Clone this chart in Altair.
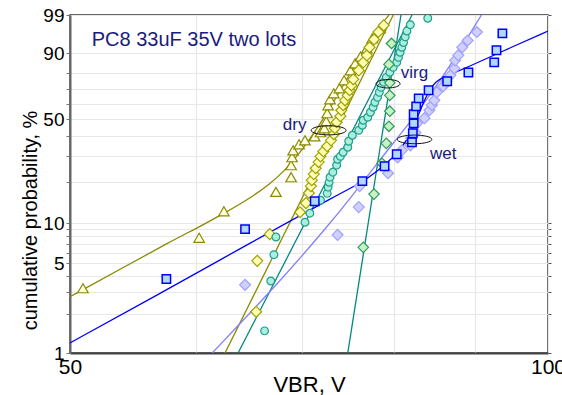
import math
import altair as alt
import pandas as pd

# ---------------- data: VBR (V) and cumulative probability (%) ----------------
# dry, lot 1 (triangles)
dry1_vbr = [50.95, 60.3, 62.5, 67.4, 68.9, 68.9, 69.0, 69.1, 69.7, 70.3, 71.3, 71.9, 72.3,
            72.5, 72.6, 72.7, 72.9, 73.3, 73.9, 74.4, 75.1, 75.6, 76.2, 76.9, 77.5, 78.4]
dry1_pct = [3.2, 7.8, 12.3, 17.0, 21.6, 26.1, 29.5, 32.7, 35.7, 37.8, 40.0, 42.3, 44.6,
            48.9, 54.0, 59.2, 63.2, 67.2, 70.5, 75.6, 81.5, 85.3, 88.6, 91.9, 95.1, 97.3]
# dry, lot 2 (yellow diamonds)
dry2_vbr = [65.5, 65.6, 66.8, 69.8, 70.4, 70.7, 70.9, 71.0, 71.2, 71.4, 71.7, 71.9, 72.2,
            72.6, 73.0, 73.3, 73.4, 73.6, 74.0, 74.1, 74.3, 74.5, 74.8, 75.0, 75.2, 75.4,
            76.0, 76.5, 76.9, 77.2, 77.7, 78.2, 78.8]
dry2_pct = [2.1, 5.2, 8.3, 12.1, 14.1, 16.7, 18.7, 20.6, 22.7, 24.9, 27.4, 29.9, 32.2,
            34.7, 37.8, 41.2, 44.6, 48.3, 52.1, 55.9, 59.2, 62.5, 65.8, 69.2, 72.4, 76.2,
            81.5, 85.8, 89.1, 92.3, 94.8, 96.6, 97.8]
# virgin, lot 1 (circles)
virg1_vbr = [66.3, 66.9, 67.2, 67.4, 70.3, 70.8, 71.9, 72.6, 72.7, 72.8, 72.9, 73.2, 73.6,
             73.7, 74.0, 74.3, 74.8, 74.9, 75.3, 76.0, 76.4, 76.5, 77.0, 77.3, 77.6, 77.8,
             78.1, 78.3, 78.5, 78.8, 79.1, 79.5, 79.9, 80.3, 80.5, 80.7, 80.9, 81.1, 81.3,
             81.5, 81.9, 84.0]
virg1_pct = [1.49, 3.64, 5.8, 7.9, 10.2, 11.9, 14.8, 16.6, 18.4, 19.9, 21.6, 23.4, 26.1,
             28.6, 29.9, 31.8, 34.2, 37.3, 40.6, 43.4, 46.4, 49.5, 51.4, 54.6, 57.9, 61.2,
             64.5, 67.8, 71.1, 74.4, 77.4, 80.4, 83.2, 85.8, 88.2, 90.4, 92.3, 93.9, 95.5,
             96.8, 97.9, 98.7]
# virgin, lot 2 (green diamonds)
virg2_vbr = [76.5, 77.7, 78.6, 79.1, 79.4, 79.5, 79.5, 79.5, 79.4, 79.7]
virg2_pct = [6.6, 16.4, 26.9, 36.2, 45.8, 55.3, 65.8, 74.0, 84.8, 93.6]
# wet, lot 1 (squares)
wet1_vbr = [57.5, 64.45, 71.3, 76.4, 78.9, 80.3, 82.1, 82.2, 82.3, 82.3, 82.6, 82.9, 84.1,
            86.4, 89.1, 92.5, 92.8, 93.6]
wet1_pct = [3.77, 9.05, 14.55, 20.3, 25.7, 30.85, 36.8, 41.7, 47.6, 53.3, 58.5, 63.8, 69.2,
            75.0, 80.3, 85.8, 91.2, 96.3]
# wet, lot 2 (lilac diamonds)
wet2_vbr = [64.45, 73.7, 76.0, 76.1, 79.3, 80.4, 80.9, 81.9, 82.0, 82.5, 82.7, 83.6, 84.2,
            84.5, 84.8, 85.1, 85.9, 86.3, 86.8, 87.3, 87.4, 87.8, 88.3, 89.0, 90.2]
wet2_pct = [3.4, 8.2, 13.2, 18.7, 23.0, 29.4, 32.7, 35.2, 38.9, 42.2, 47.6, 50.8, 55.9,
            59.2, 62.5, 67.8, 71.8, 75.0, 78.6, 82.6, 86.8, 89.1, 92.3, 94.5, 96.6]

# fitted lines
dry1_fit_vbr = [50.0, 53.8, 57.9, 60.3, 62.5, 64.9, 66.8, 68.3, 69.8, 71.3, 72.9, 74.5,
                76.4, 77.8, 79.4]
dry1_fit_pct = [2.75, 4.5, 7.35, 9.4, 11.85, 15.3, 19.3, 24.1, 31.7, 42.3, 57.2, 74.3,
                90.4, 96.6, 99.0]
dry2_fit_vbr = [62.6, 79.9]
dry2_fit_pct = [1.0, 99.0]
virg1_fit_vbr = [63.8, 82.1]
virg1_fit_pct = [1.0, 99.0]
virg2_fit_vbr = [74.8, 80.8]
virg2_fit_pct = [1.0, 99.0]
wet1_fit_vbr = [50.0, 56.2, 64.9, 74.0, 76.2, 78.2, 79.8, 81.0, 81.9, 82.6, 83.2, 83.7,
                84.3, 85.0, 85.9, 89.4, 93.3, 100.0]
wet1_fit_pct = [1.2, 2.65, 7.1, 16.65, 19.6, 24.1, 29.1, 34.7, 41.2, 49.5, 57.2, 63.8,
                69.9, 75.0, 77.4, 84.0, 90.4, 96.8]
wet2_fit_vbr = [61.45, 67.9, 72.9, 74.9, 78.4, 82.0, 85.8, 90.8]
wet2_fit_pct = [1.0, 3.68, 10.0, 14.8, 28.6, 48.9, 76.8, 99.0]

# annotations
title_text = "PC8 33uF 35V two lots"
title_vbr, title_pct = 51.6, 92.8
ann_text = ["dry", "virg", "wet"]
ann_vbr = [69.25, 82.4, 85.9]
ann_pct = [43.4, 76.8, 28.6]
ell_vbr = [72.75, 79.3, 82.4]
ell_pct = [43.4, 73.4, 38.3]

grid_pct = [1, 2, 3, 4, 5, 6, 7, 8, 9, 10, 20, 30, 40, 50, 60, 70, 80, 90, 99]
x_ticks = [50, 60, 70, 80, 90, 100]


# ---------------- helpers ----------------
def wb(p):
    return math.log(-math.log(1.0 - p / 100.0))


def frame(vbr, pct, **extra):
    d = {"vbr": vbr, "pct": pct, "yw": [wb(p) for p in pct]}
    d.update(extra)
    return pd.DataFrame(d)


FONT = "Liberation Sans"
NAVY = "#1a1a80"
Y_MIN, Y_MAX = wb(1), wb(99)
yvals = [wb(p) for p in grid_pct]

xenc = alt.X(
    "vbr:Q",
    scale=alt.Scale(type="log", domain=[50, 100], nice=False, zero=False),
    axis=alt.Axis(
        values=x_ticks,
        labelExpr="(datum.value == 50 || datum.value == 100) ? '' + datum.value : ''",
        title="VBR, V", titleFont=FONT, titleFontSize=22, titleFontWeight="normal",
        titleColor="#000", titleBaseline="alphabetic", titleY=38,
        labelFont=FONT, labelFontSize=21, labelColor="#000", labelPadding=3,
        labelFlush=False, labelOverlap=False, labelBound=False,
        ticks=False, grid=True, gridColor="#e8e8e8", gridWidth=1.2,
        domainColor="#444", domainWidth=2,
    ),
)
yscale = alt.Scale(domain=[Y_MIN, Y_MAX], nice=False, zero=False)
yleft = alt.Y(
    "yw:Q", scale=yscale,
    axis=alt.Axis(
        orient="left", values=yvals,
        labelExpr="indexof([1,5,10,50,90,99], round(100*(1-exp(-exp(datum.value))))) >= 0 ? '' + round(100*(1-exp(-exp(datum.value)))) : ''",
        title="cumulative probability, %", titleFont=FONT, titleFontSize=20,
        titleFontWeight="normal", titleColor="#000", titleAngle=-90,
        titleAlign="center", titleBaseline="middle", titleX=-40, titleY=205,
        labelFont=FONT, labelFontSize=19, labelColor="#000", labelPadding=2,
        labelFlush=False, labelOverlap=False, labelBound=False,
        ticks=True, tickSize=4, tickColor="#777",
        grid=True, gridColor="#e8e8e8", gridWidth=1.2,
        domainColor="#666", domainWidth=2,
    ),
)
ynone = alt.Y("yw:Q", scale=yscale, axis=None)
yright = alt.Y(
    "yw:Q", scale=yscale,
    axis=alt.Axis(orient="right", values=yvals, labels=False, domain=False, grid=False,
                  ticks=True, tickSize=3, tickColor="#555", title=None),
)

layers = []


def line_layer(vbr, pct, color, interp="linear", y=ynone):
    return alt.Chart(frame(vbr, pct)).mark_line(
        color=color, strokeWidth=1.3, interpolate=interp, clip=True
    ).encode(x=xenc, y=y)


def point_layer(vbr, pct, shape, size, stroke, fill, sw=1.2):
    return alt.Chart(frame(vbr, pct)).mark_point(
        shape=shape, size=size, stroke=stroke, fill=fill, filled=False,
        fillOpacity=1, strokeWidth=sw, opacity=1, clip=True
    ).encode(x=xenc, y=ynone)


# fit lines
layers.append(line_layer(dry1_fit_vbr, dry1_fit_pct, "#8a8a00", "basis", y=yleft))
layers.append(line_layer(dry2_fit_vbr, dry2_fit_pct, "#8a8a00"))
layers.append(line_layer(virg1_fit_vbr, virg1_fit_pct, "#00897f"))
layers.append(line_layer(virg2_fit_vbr, virg2_fit_pct, "#00897f"))
layers.append(line_layer(wet2_fit_vbr, wet2_fit_pct, "#8080ff", "basis"))
layers.append(line_layer(wet1_fit_vbr, wet1_fit_pct, "#0000ff", "basis"))

# data points
layers.append(point_layer(dry1_vbr, dry1_pct, "triangle-up", 110, "#8a8a00", "#ffffe0"))
layers.append(point_layer(dry2_vbr, dry2_pct, "diamond", 120, "#a0a000", "#ffffb4"))
layers.append(point_layer(virg1_vbr, virg1_pct, "circle", 60, "#1f9e8e", "#aaeedd"))
layers.append(point_layer(virg2_vbr, virg2_pct, "diamond", 110, "#2e9a5a", "#c6f2c6"))
layers.append(point_layer(wet2_vbr, wet2_pct, "diamond", 120, "#a0a0ff", "#d0d0ff"))
layers.append(point_layer(wet1_vbr, wet1_pct, "square", 70, "#0000ff", "#b0d8ff", 1.5))

# ellipses around the characteristic points
ell_shapes = [
    ("M -1 0 A 1 0.26 0 1 0 1 0 A 1 0.26 0 1 0 -1 0", 35),
    ("M -1 0 A 1 0.35 0 1 0 1 0 A 1 0.35 0 1 0 -1 0", 24),
    ("M -1 0 A 1 0.25 0 1 0 1 0 A 1 0.25 0 1 0 -1 0", 34.6),
]
for i, (path, w) in enumerate(ell_shapes):
    layers.append(
        alt.Chart(frame([ell_vbr[i]], [ell_pct[i]])).mark_point(
            shape=path, size=w * w, stroke="#111", strokeWidth=1, filled=False, opacity=1
        ).encode(x=xenc, y=ynone)
    )

# annotation texts
layers.append(
    alt.Chart(frame(ann_vbr, ann_pct, label=ann_text)).mark_text(
        font=FONT, fontSize=17, color=NAVY, align="center", baseline="alphabetic"
    ).encode(x=xenc, y=ynone, text="label:N")
)
layers.append(
    alt.Chart(frame([title_vbr], [title_pct], label=[title_text])).mark_text(
        font=FONT, fontSize=20, color=NAVY, align="left", baseline="alphabetic"
    ).encode(x=xenc, y=ynone, text="label:N")
)

# right-hand tick marks
layers.append(
    alt.Chart(frame(dry2_fit_vbr, dry2_fit_pct)).mark_point(opacity=0).encode(x=xenc, y=yright)
)

chart = (
    alt.layer(*layers)
    .resolve_axis(y="independent")
    .resolve_scale(y="shared")
    .properties(
        width=478, height=338, autosize=alt.AutoSizeParams(type="none"),
        padding={"left": 70, "top": 15, "right": 14, "bottom": 42},
        background="white",
    )
    .configure_view(stroke="#333", strokeWidth=1.5)
)

chart.save("out.html", embed_options={"renderer": "svg", "actions": False})
